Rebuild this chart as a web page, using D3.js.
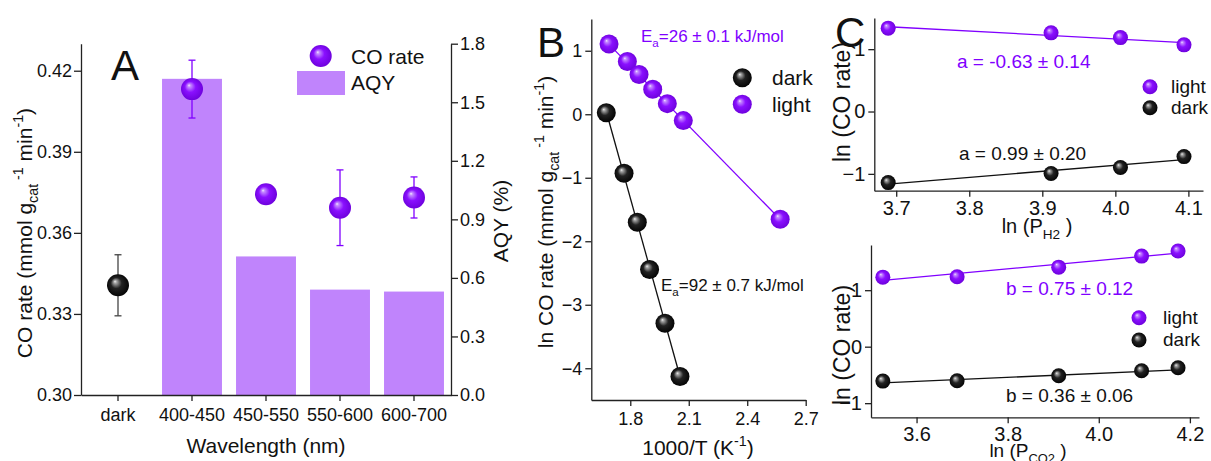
<!DOCTYPE html>
<html>
<head>
<meta charset="utf-8">
<script src="https://cdn.jsdelivr.net/npm/d3@7"></script>
<style>
  body { margin: 0; background: #fff; }
  text { font-family: Arial, "Liberation Sans", sans-serif; }
  .axis path, .axis line { stroke: #222; stroke-width: 1.3; }
  .axis text { fill: #111; }
</style>
</head>
<body>
<div id="chart"></div>
<script>
// ---- data ----
// panel A
var aCats = ["dark", "400-450", "450-550", "550-600", "600-700"];
var aAqy = [null, 1.62, 0.71, 0.54, 0.53];
var aRate = [0.3406, 0.4132, 0.3743, 0.3693, 0.3731];
var aErr = [0.0113, 0.0107, 0.002, 0.014, 0.0076];
var aLeftTicks = [0.30, 0.33, 0.36, 0.39, 0.42];
var aRightTicks = [0, 0.3, 0.6, 0.9, 1.2, 1.5, 1.8];

// panel B (Arrhenius)
var bDarkX = [1.677, 1.768, 1.836, 1.899, 1.978, 2.055];
var bDarkY = [0.025, -0.93, -1.70, -2.445, -3.29, -4.13];
var bLightX = [1.691, 1.785, 1.845, 1.915, 1.99, 2.072, 2.569];
var bLightY = [1.105, 0.83, 0.625, 0.394, 0.167, -0.10, -1.655];
var bDarkFit = [[1.677, 0.04], [2.055, -4.13]];
var bLightFit = [[1.691, 1.10], [2.569, -1.655]];
var bXTicks = [1.8, 2.1, 2.4, 2.7];
var bYTicks = [1, 0, -1, -2, -3, -4];

// panel C top (H2 order)
var c1X = [3.689, 3.912, 4.007, 4.094];
var c1Light = [1.337, 1.262, 1.186, 1.069];
var c1Dark = [-1.14, -0.995, -0.899, -0.723];
var c1LightFit = [1.36, 1.105];
var c1DarkFit = [-1.165, -0.77];
var c1XTicks = [3.7, 3.8, 3.9, 4.0, 4.1];

// panel C bottom (CO2 order)
var c2X = [3.526, 3.689, 3.912, 4.094, 4.174];
var c2Light = [1.231, 1.237, 1.408, 1.604, 1.693];
var c2Dark = [-0.609, -0.604, -0.515, -0.426, -0.373];
var c2LightFit = [1.172, 1.656];
var c2DarkFit = [-0.64, -0.41];
var c2XTicks = [3.6, 3.8, 4.0, 4.2];

var purple = "#8000ff";
var barColor = "#c084fc";

var svg = d3.select("#chart").append("svg")
  .attr("width", 1211)
  .attr("height", 461);

// sphere gradients
var defs = svg.append("defs");
function sphereGrad(id, stops) {
  var g = defs.append("radialGradient").attr("id", id)
    .attr("cx", 0.5).attr("cy", 0.5).attr("r", 0.55)
    .attr("fx", 0.36).attr("fy", 0.32);
  stops.forEach(function (s) {
    g.append("stop").attr("offset", s[0]).attr("stop-color", s[1]);
  });
}
sphereGrad("gP", [[0, "#f4ebff"], [0.12, "#c58cff"], [0.45, "#8a10ff"], [1, "#6a00d8"]]);
sphereGrad("gK", [[0, "#f2f2f2"], [0.12, "#a8a8a8"], [0.45, "#222"], [1, "#000"]]);

// text with sub / superscripts
function rich(t, parts, size) {
  var shift = 0;
  parts.forEach(function (p) {
    var target = p[1] === "sub" ? size * 0.3 : p[1] === "sup" ? -size * 0.42 : 0;
    t.append("tspan")
      .attr("dy", target - shift)
      .attr("font-size", p[1] ? size * 0.68 : size)
      .text(p[0]);
    shift = target;
  });
  return t;
}

function label(x, y, parts, size, opts) {
  opts = opts || {};
  var t = svg.append("text")
    .attr("font-size", size)
    .attr("fill", opts.fill || "#111")
    .attr("text-anchor", opts.anchor || "start");
  if (opts.rotate) {
    t.attr("transform", "translate(" + x + "," + y + ") rotate(-90)");
  } else {
    t.attr("x", x).attr("y", y);
  }
  return rich(t, parts, size);
}

function spheres(g, xs, ys, sx, sy, r, grad) {
  g.selectAll(null)
    .data(xs.map(function (x, i) { return [x, ys[i]]; }))
    .enter().append("circle")
    .attr("cx", function (d) { return sx(d[0]); })
    .attr("cy", function (d) { return sy(d[1]); })
    .attr("r", r)
    .attr("fill", "url(#" + grad + ")");
}

function styleAxis(g, size) {
  g.attr("class", "axis");
  g.selectAll("text").attr("font-size", size).attr("font-family", null);
}

// ================= Panel A =================
var xA = d3.scaleBand().domain(aCats).range([81, 451])
  .paddingInner(0.19).paddingOuter(0.095);
var yA = d3.scaleLinear().domain([0.30, 0.43]).range([395, 43.7]);
var yA2 = d3.scaleLinear().domain([0, 1.8]).range([395, 43.7]);

var gA = svg.append("g");
gA.selectAll("rect.bar")
  .data(aCats.map(function (c, i) { return { c: c, v: aAqy[i] }; }).filter(function (d) { return d.v != null; }))
  .enter().append("rect")
  .attr("x", function (d) { return xA(d.c); })
  .attr("width", xA.bandwidth())
  .attr("y", function (d) { return yA2(d.v); })
  .attr("height", function (d) { return yA2(0) - yA2(d.v); })
  .attr("fill", barColor);

styleAxis(gA.append("g").attr("transform", "translate(81,0)")
  .call(d3.axisLeft(yA).tickValues(aLeftTicks).tickFormat(d3.format(".2f"))
    .tickSize(7).tickSizeOuter(0).tickPadding(2)), 18);
styleAxis(gA.append("g").attr("transform", "translate(451,0)")
  .call(d3.axisRight(yA2).tickValues(aRightTicks).tickFormat(d3.format(".1f"))
    .tickSize(7).tickSizeOuter(0).tickPadding(2)), 18);
styleAxis(gA.append("g").attr("transform", "translate(0,395)")
  .call(d3.axisBottom(xA).tickSize(6).tickSizeOuter(0).tickPadding(7)), 18);

// error bars + points
aCats.forEach(function (c, i) {
  var cx = xA(c) + xA.bandwidth() / 2;
  var col = i === 0 ? "#444" : purple;
  var y1 = yA(aRate[i] + aErr[i]), y2 = yA(aRate[i] - aErr[i]);
  gA.append("line").attr("x1", cx).attr("x2", cx).attr("y1", y1).attr("y2", y2)
    .attr("stroke", col).attr("stroke-width", 1.3);
  [y1, y2].forEach(function (yy) {
    gA.append("line").attr("x1", cx - 3.5).attr("x2", cx + 3.5).attr("y1", yy).attr("y2", yy)
      .attr("stroke", col).attr("stroke-width", 1.3);
  });
  gA.append("circle").attr("cx", cx).attr("cy", yA(aRate[i])).attr("r", 11)
    .attr("fill", i === 0 ? "url(#gK)" : "url(#gP)");
});

// legend A
svg.append("circle").attr("cx", 320.7).attr("cy", 56).attr("r", 11).attr("fill", "url(#gP)");
label(351, 64, [["CO rate"]], 21);
svg.append("rect").attr("x", 297).attr("y", 71).attr("width", 48).attr("height", 24).attr("fill", barColor);
label(351, 90, [["AQY"]], 21);
label(111, 80, [["A"]], 42);

label(266, 453, [["Wavelength (nm)"]], 21, { anchor: "middle" });
label(32, 233, [["CO rate (mmol g"], ["cat", "sub"], [" -1", "sup"], [" min"], ["-1", "sup"], [")"]], 21, { anchor: "middle", rotate: true });
label(508, 221, [["AQY (%)"]], 21, { anchor: "middle", rotate: true });

// ================= Panel B =================
var xB = d3.scaleLinear().domain([1.6, 2.7]).range([591.3, 805.7]);
var yB = d3.scaleLinear().domain([-4.5, 1.5]).range([400, 19]);
var gB = svg.append("g");
styleAxis(gB.append("g").attr("transform", "translate(591.3,0)")
  .call(d3.axisLeft(yB).tickValues(bYTicks).tickFormat(d3.format("d"))
    .tickSize(6).tickSizeOuter(0).tickPadding(3)), 18);
styleAxis(gB.append("g").attr("transform", "translate(0,400)")
  .call(d3.axisBottom(xB).tickValues(bXTicks).tickFormat(d3.format(".1f"))
    .tickSize(6).tickSizeOuter(0).tickPadding(6)), 18);

var line = d3.line().x(function (d) { return xB(d[0]); }).y(function (d) { return yB(d[1]); });
gB.append("path").attr("d", line(bDarkFit)).attr("stroke", "#111").attr("stroke-width", 1.3).attr("fill", "none");
gB.append("path").attr("d", line(bLightFit)).attr("stroke", purple).attr("stroke-width", 1.3).attr("fill", "none");
spheres(gB, bDarkX, bDarkY, xB, yB, 9.5, "gK");
spheres(gB, bLightX, bLightY, xB, yB, 9.5, "gP");

svg.append("circle").attr("cx", 742.3).attr("cy", 77.7).attr("r", 9.5).attr("fill", "url(#gK)");
label(772, 85, [["dark"]], 21);
svg.append("circle").attr("cx", 742.3).attr("cy", 104.3).attr("r", 9.5).attr("fill", "url(#gP)");
label(772, 112, [["light"]], 21);
label(537, 57, [["B"]], 42);
label(641, 42, [["E"], ["a", "sub"], ["=26 ± 0.1 kJ/mol"]], 17, { fill: purple });
label(661, 291, [["E"], ["a", "sub"], ["=92 ± 0.7 kJ/mol"]], 17);

label(698, 455, [["1000/T (K"], ["-1", "sup"], [")"]], 21, { anchor: "middle" });
label(553, 212, [["ln CO rate (mmol g"], ["cat", "sub"], [" -1", "sup"], [" min"], ["-1", "sup"], [")"]], 21, { anchor: "middle", rotate: true });

// ================= Panel C =================
function panelC(cfg) {
  var x = d3.scaleLinear().domain(cfg.xd).range(cfg.xr);
  var y = d3.scaleLinear().domain(cfg.yd).range(cfg.yr);
  var g = svg.append("g");
  styleAxis(g.append("g").attr("transform", "translate(" + cfg.xr[0] + ",0)")
    .call(d3.axisLeft(y).tickValues([1, 0, -1]).tickFormat(d3.format("d"))
      .tickSize(6).tickSizeOuter(0).tickPadding(3)), 20);
  styleAxis(g.append("g").attr("transform", "translate(0," + cfg.yr[0] + ")")
    .call(d3.axisBottom(x).tickValues(cfg.xt).tickFormat(d3.format(".1f"))
      .tickSize(6).tickSizeOuter(0).tickPadding(4)), 20);
  var ends = [cfg.xs[0], cfg.xs[cfg.xs.length - 1]];
  [[cfg.lightFit, purple], [cfg.darkFit, "#111"]].forEach(function (f) {
    g.append("line")
      .attr("x1", x(ends[0])).attr("x2", x(ends[1]))
      .attr("y1", y(f[0][0])).attr("y2", y(f[0][1]))
      .attr("stroke", f[1]).attr("stroke-width", 1.3);
  });
  spheres(g, cfg.xs, cfg.light, x, y, 7.5, "gP");
  spheres(g, cfg.xs, cfg.dark, x, y, 7.5, "gK");
}

panelC({ xd: [3.67, 4.12], xr: [874.3, 1203], yd: [-1.27, 1.5], yr: [190.7, 18],
  xt: c1XTicks, xs: c1X, light: c1Light, dark: c1Dark, lightFit: c1LightFit, darkFit: c1DarkFit });
panelC({ xd: [3.5, 4.22], xr: [871, 1199], yd: [-1.25, 1.8], yr: [417.3, 245],
  xt: c2XTicks, xs: c2X, light: c2Light, dark: c2Dark, lightFit: c2LightFit, darkFit: c2DarkFit });

label(835, 47, [["C"]], 42);
label(957, 68, [["a = -0.63 ± 0.14"]], 19, { fill: purple });
label(959, 160, [["a = 0.99 ± 0.20"]], 19);
svg.append("circle").attr("cx", 1150).attr("cy", 86.7).attr("r", 7.5).attr("fill", "url(#gP)");
label(1171, 93, [["light"]], 19);
svg.append("circle").attr("cx", 1150).attr("cy", 107.7).attr("r", 7.5).attr("fill", "url(#gK)");
label(1171, 114, [["dark"]], 19);
label(1037, 233, [["ln (P"], ["H2", "sub"], [" )"]], 20, { anchor: "middle" });
label(850, 102, [["ln (CO rate)"]], 23, { anchor: "middle", rotate: true });

label(1006, 295, [["b = 0.75 ± 0.12"]], 19, { fill: purple });
label(1006, 402, [["b = 0.36 ± 0.06"]], 19);
svg.append("circle").attr("cx", 1139).attr("cy", 317.7).attr("r", 7.5).attr("fill", "url(#gP)");
label(1163, 324, [["light"]], 19);
svg.append("circle").attr("cx", 1139).attr("cy", 340).attr("r", 7.5).attr("fill", "url(#gK)");
label(1163, 346, [["dark"]], 19);
label(1028, 457, [["ln (P"], ["CO2", "sub"], [" )"]], 19, { anchor: "middle" });
label(850, 345, [["ln (CO rate)"]], 23, { anchor: "middle", rotate: true });
</script>
</body>
</html>
